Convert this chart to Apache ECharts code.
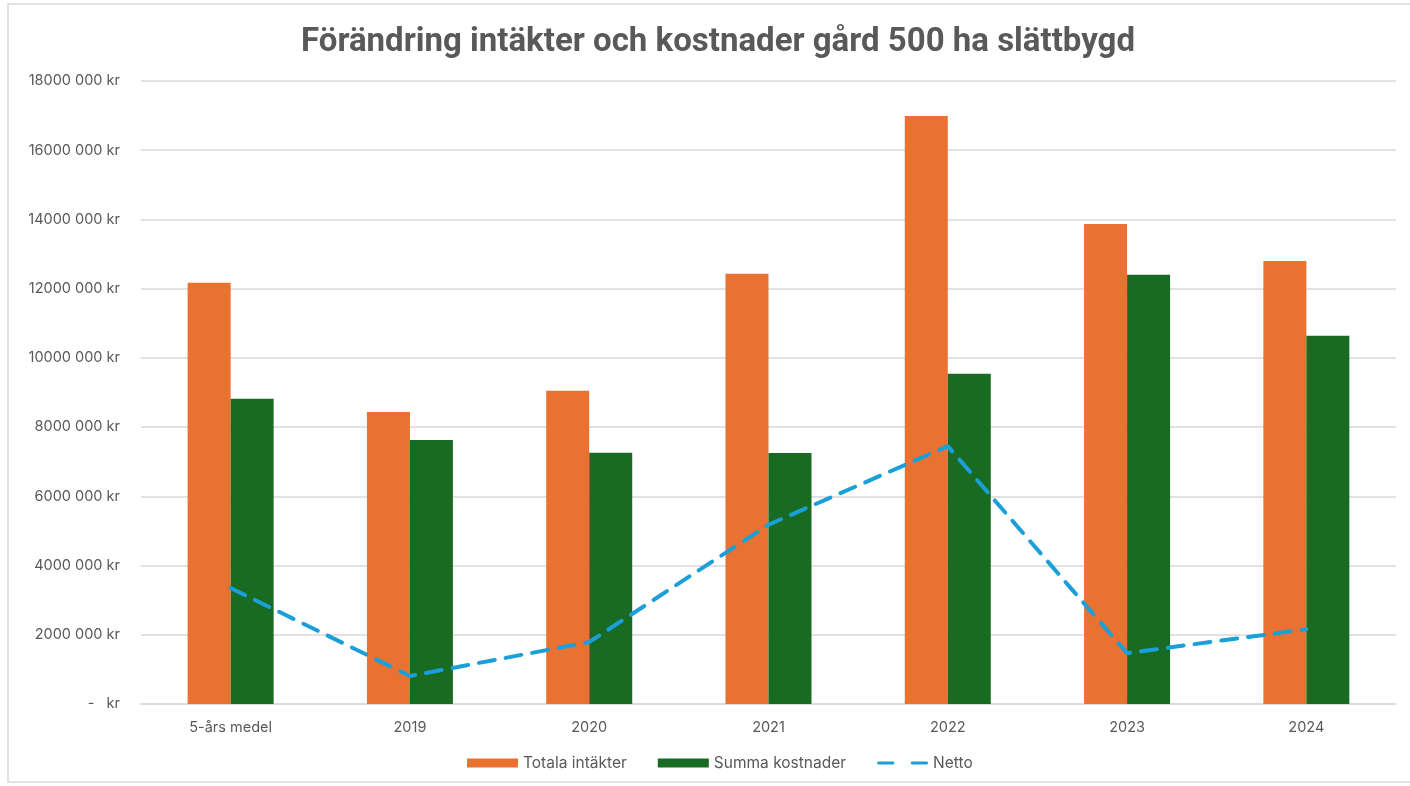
<!DOCTYPE html>
<html><head><meta charset="utf-8">
<script src="https://cdn.jsdelivr.net/npm/echarts@6/dist/echarts.min.js"></script>
<style>html,body{margin:0;padding:0;background:#fff}#c{width:1410px;height:786px}</style>
</head><body><div id="c"></div>
<script>
const categories = ['5-års medel','2019','2020','2021','2022','2023','2024'];
const intakter = [12170000, 8440000, 9050000, 12430000, 16990000, 13870000, 12800000];
const kostnader = [8820000, 7630000, 7260000, 7250000, 9540000, 12400000, 10640000];
const netto = [3350000, 810000, 1790000, 5180000, 7450000, 1470000, 2160000];
const yTickLabels = {0:'-   kr',2000000:'2000 000 kr',4000000:'4000 000 kr',6000000:'6000 000 kr',8000000:'8000 000 kr',10000000:'10000 000 kr',12000000:'12000 000 kr',14000000:'14000 000 kr',16000000:'16000 000 kr',18000000:'18000 000 kr'};

const chart = echarts.init(document.getElementById('c'), null, {renderer:'canvas'});
const font = 'Inter, "Open Sans", sans-serif';
chart.setOption({
  animation:false,
  backgroundColor:'#fff',
  graphic:[{type:'rect',shape:{x:8,y:4,width:1420,height:778},style:{fill:'none',stroke:'#d9d9d9',lineWidth:1.5},silent:true}],
  title:{text:'Förändring intäkter och kostnader gård 500 ha slättbygd',left:296,top:21,
    textStyle:{fontFamily:'Roboto, "Liberation Sans", sans-serif',fontWeight:'bold',fontSize:33,color:'#595959'}},
  grid:{left:141,right:14,top:81,bottom:82,containLabel:false},
  legend:{bottom:10,left:462,itemGap:31,itemWidth:51,itemHeight:9,itemTextGap:7,
    textStyle:{fontFamily:font,fontSize:15.5,color:'#595959'},
    data:[{name:'Totala intäkter',icon:'rect'},{name:'Summa kostnader',icon:'rect'},
      {name:'Netto',icon:'path://M0,0 M53,9 M1.5,3 L16.5,3 A1.5,1.5 0 0 1 16.5,6 L1.5,6 A1.5,1.5 0 0 1 1.5,3 Z M36.5,3 L51.5,3 A1.5,1.5 0 0 1 51.5,6 L36.5,6 A1.5,1.5 0 0 1 36.5,3 Z'}]},
  xAxis:{type:'category',data:categories,axisTick:{show:false},
    axisLine:{lineStyle:{color:'#d9d9d9',width:1.5}},
    axisLabel:{fontFamily:font,fontSize:14.5,color:'#595959',margin:16}},
  yAxis:{type:'value',min:0,max:18000000,interval:2000000,
    axisLine:{show:false},axisTick:{show:false},
    splitLine:{lineStyle:{color:'#d9d9d9',width:1.5}},
    axisLabel:{fontFamily:font,fontSize:14.5,color:'#595959',margin:21,formatter:v=>yTickLabels[v]}},
  series:[
    {name:'Totala intäkter',type:'bar',data:intakter,barWidth:43,barGap:'0%',itemStyle:{color:'#E97132'}},
    {name:'Summa kostnader',type:'bar',data:kostnader,barWidth:43,barGap:'0%',itemStyle:{color:'#196B24'}},
    {name:'Netto',type:'line',data:netto,symbol:'none',lineStyle:{color:'#1A9FD9',width:4,type:[16,11],cap:'round'},itemStyle:{color:'#1A9FD9'}}
  ]
});
</script></body></html>
